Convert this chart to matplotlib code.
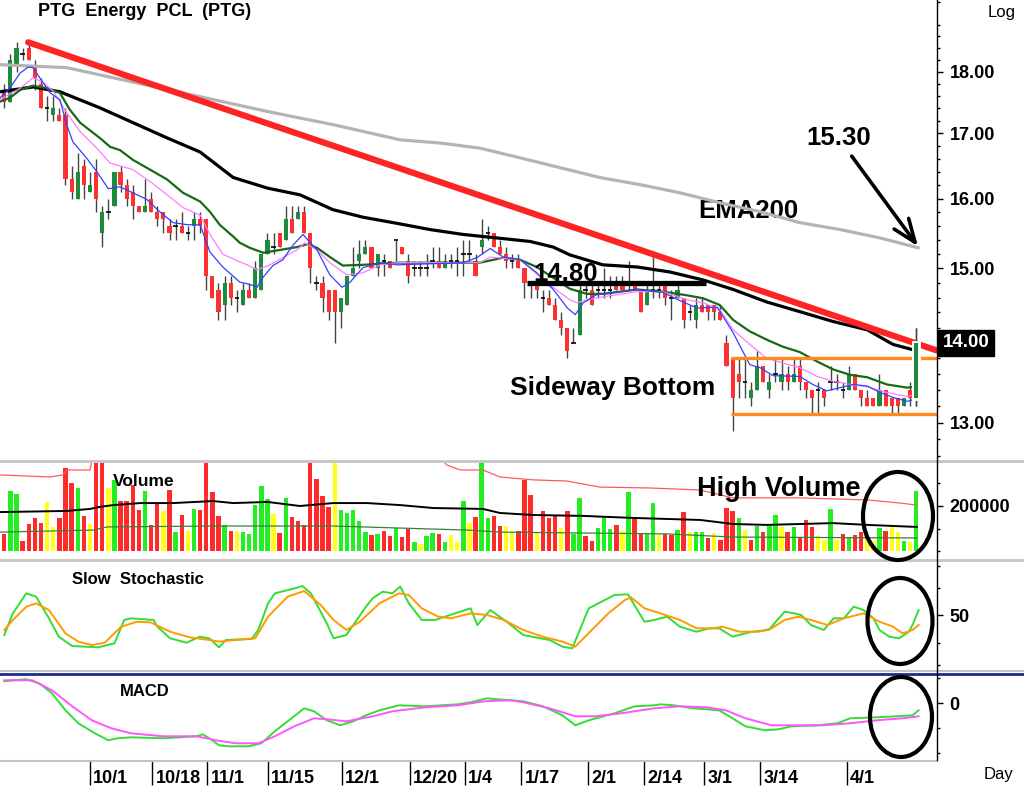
import matplotlib.pyplot as plt
import matplotlib.transforms as mtrans
from matplotlib.patches import Ellipse
from matplotlib.lines import Line2D
from matplotlib.ticker import NullFormatter
import numpy as np

plt.rcParams['font.family'] = ['Liberation Sans', 'DejaVu Sans']

# daily candles, index 0 = first bar on the chart
opens = [17.7,17.5,18.1,18.3,18.4,18.1,17.8,17.4,17.3,17.3,
         17.3,16.3,16.0,16.5,16.1,16.4,15.5,15.8,15.9,16.4,
         16.2,16.1,15.9,15.8,16.0,15.8,15.8,15.6,15.6,15.6,
         15.5,15.6,15.7,15.7,14.9,14.7,14.5,14.8,14.6,14.5,
         14.7,14.6,14.7,15.2,15.3,15.5,15.4,15.7,15.7,15.8,
         15.5,14.8,14.8,14.7,14.7,14.4,14.5,14.9,15.1,15.2,
         15.3,15.0,15.1,15.1,15.4,15.3,15.1,15.0,15.0,15.0,
         15.1,15.1,15.0,15.1,15.1,15.2,15.2,15.1,15.3,15.5,
         15.5,15.3,15.2,15.1,15.1,15.0,14.8,14.8,14.6,14.6,
         14.5,14.3,14.2,14.0,14.1,14.7,14.7,14.7,14.7,14.7,
         14.8,14.8,14.8,14.8,14.7,14.5,14.7,14.7,14.8,14.6,
         14.6,14.6,14.4,14.3,14.5,14.5,14.5,14.4,14.0,13.8,
         13.6,13.5,13.3,13.4,13.7,13.4,13.6,13.5,13.6,13.5,
         13.7,13.5,13.4,13.4,13.4,13.5,13.5,13.4,13.4,13.6,
         13.4,13.3,13.3,13.2,13.4,13.3,13.3,13.2,13.4,13.3]
highs = [17.8,18.3,18.5,18.4,18.5,18.2,17.9,17.6,17.6,17.4,
         17.4,16.5,16.7,16.6,16.4,16.6,15.9,16.0,16.4,16.5,
         16.3,16.2,15.9,16.3,16.1,15.9,15.8,15.7,15.7,15.8,
         15.6,15.8,15.8,15.7,14.9,14.8,14.9,14.9,14.7,14.8,
         14.8,15.1,15.2,15.5,15.5,15.5,15.9,15.9,15.9,15.9,
         15.5,14.9,14.9,14.7,14.7,14.6,14.9,15.3,15.4,15.4,
         15.3,15.2,15.2,15.1,15.4,15.3,15.2,15.1,15.1,15.2,
         15.3,15.3,15.2,15.2,15.3,15.4,15.4,15.2,15.7,15.6,
         15.5,15.4,15.3,15.2,15.2,15.0,14.8,14.8,14.7,14.7,
         14.6,14.4,14.2,14.2,14.8,14.8,14.8,14.8,15.0,14.9,
         14.9,14.9,15.1,14.8,14.7,14.8,15.2,14.8,14.8,14.7,
         14.8,14.6,14.5,14.6,14.6,14.5,14.5,14.5,14.1,13.8,
         13.8,13.8,13.5,13.9,13.7,13.6,13.8,13.8,13.7,13.8,
         13.8,13.5,13.4,13.5,13.4,13.7,13.6,13.5,13.7,13.6,
         13.4,13.4,13.3,13.6,13.4,13.3,13.3,13.3,13.5,14.2]
lows = [17.4,17.5,18.0,18.2,18.2,17.7,17.4,17.2,17.2,17.2,
        16.2,16.0,16.0,16.0,16.1,15.8,15.3,15.7,15.9,16.1,
        15.9,15.7,15.8,15.8,15.8,15.6,15.5,15.4,15.4,15.5,
        15.4,15.4,15.5,14.7,14.6,14.3,14.3,14.5,14.4,14.5,
        14.6,14.6,14.7,15.2,15.2,15.3,15.4,15.5,15.7,15.5,
        14.8,14.7,14.4,14.3,14.0,14.2,14.5,14.9,15.0,15.2,
        15.0,14.9,14.9,15.0,15.1,15.2,14.8,14.9,14.9,14.9,
        15.0,15.0,15.0,15.0,14.9,14.9,15.1,14.9,15.2,15.4,
        15.3,15.2,15.0,15.0,15.0,14.6,14.6,14.6,14.4,14.5,
        14.3,14.1,13.8,14.0,14.1,14.6,14.5,14.6,14.6,14.6,
        14.7,14.7,14.7,14.7,14.4,14.5,14.6,14.6,14.5,14.3,
        14.6,14.2,14.3,14.2,14.4,14.3,14.3,14.3,13.7,12.9,
        13.3,13.3,13.2,13.4,13.5,13.3,13.5,13.4,13.4,13.5,
        13.4,13.3,13.1,13.1,13.2,13.4,13.4,13.3,13.4,13.4,
        13.2,13.2,13.2,13.2,13.2,13.1,13.1,13.2,13.2,13.2]
closes = [17.5,18.2,18.4,18.3,18.2,17.9,17.4,17.4,17.4,17.2,
          16.3,16.1,16.4,16.2,16.2,16.0,15.8,15.8,16.4,16.2,
          16.0,15.9,15.8,15.9,15.8,15.7,15.7,15.5,15.6,15.5,
          15.5,15.7,15.6,14.9,14.6,14.4,14.8,14.6,14.6,14.7,
          14.6,15.0,15.2,15.4,15.3,15.3,15.7,15.5,15.8,15.5,
          15.0,14.8,14.6,14.4,14.4,14.6,14.9,15.0,15.2,15.3,
          15.0,15.2,15.1,15.0,15.4,15.2,14.9,15.0,15.0,15.0,
          15.1,15.0,15.1,15.1,15.1,15.2,15.2,14.9,15.4,15.5,
          15.3,15.2,15.1,15.1,15.0,14.8,14.8,14.7,14.6,14.5,
          14.3,14.2,13.9,14.0,14.7,14.7,14.5,14.7,14.7,14.7,
          14.7,14.7,14.8,14.7,14.4,14.7,14.7,14.7,14.6,14.6,
          14.7,14.3,14.4,14.5,14.4,14.4,14.4,14.3,13.7,13.3,
          13.5,13.5,13.4,13.7,13.5,13.5,13.6,13.6,13.5,13.6,
          13.5,13.4,13.3,13.4,13.3,13.5,13.5,13.4,13.6,13.4,
          13.3,13.2,13.2,13.4,13.2,13.2,13.2,13.3,13.3,14.0]

# volume in thousands of shares, colour code r=down g=up y=unchanged
volume = [75,267,253,44,120,147,124,218,107,147,
          369,302,280,155,120,450,450,280,316,222,
          222,293,182,267,116,209,178,271,84,160,
          89,187,182,450,262,155,116,89,89,84,
          76,204,289,231,164,80,236,151,133,116,
          450,320,244,196,450,182,169,182,133,84,
          71,76,89,67,102,62,98,40,31,67,
          80,76,40,71,40,222,124,151,450,147,
          155,112,112,83,89,316,249,79,178,148,
          157,101,178,74,237,67,44,104,156,98,
          116,89,261,145,74,74,212,71,74,71,
          93,172,83,83,83,59,79,49,190,178,
          145,93,49,112,83,112,160,108,83,105,
          56,138,108,68,49,187,49,74,59,71,
          83,59,44,104,89,108,83,44,41,267]
vol_dir = ("rggrrrryyr" "rrgryrrygr" "rrrgrryrgr" "ygrrrrgryg" "ggggyrgrrr"
           "rrrryggggg" "rgrrgrrgyg" "grgyygyrgg" "rryyrrryrr" "ryrggrrggg"
           "rygrrggyrr" "grygg" "ryrrr" "gyrgrggyrg" "rrryygyrgr" "ryygryygyg")

# moving averages on the price panel (bar index, price)
ema_fast_x = [-0.7,0.9,2.6,3.9,4.7,5.8,7.5,9.1,10.2,11.2,13.5,15.1,17.0,18.9,21.0,23.3,25.4,27.6,30.0,32.0,
              33.6,35.7,38.5,40.1,41.3,42.3,43.9,45.5,47.2,48.8,49.6,51.1,53.2,55.2,56.5,58.6,61.4,64.2,75.0,77.2,
              79.4,81.5,84.3,87.0,89.7,92.0,93.3,94.6,96.8,100.6,103.4,107.6,110.9,113.2,116.5,119.1,121.8,123.5,125.6,130.0,
              132.1,134.4,136.6,138.7,141.0,143.1,145.2,147.5,148.5,149.3]
ema_fast_y = [17.57,17.73,17.98,18.08,18.07,17.90,17.65,17.54,17.14,16.87,16.61,16.41,16.15,16.18,16.09,15.99,15.81,15.65,15.62,15.62,
              15.23,15.02,14.81,14.78,14.74,14.88,15.04,15.12,15.33,15.48,15.40,15.26,14.91,14.74,14.81,15.01,15.08,15.05,15.08,15.15,
              15.28,15.16,15.12,14.94,14.71,14.46,14.37,14.53,14.64,14.68,14.71,14.67,14.54,14.46,14.47,14.13,13.72,13.68,13.58,13.57,
              13.47,13.39,13.43,13.47,13.45,13.37,13.31,13.26,13.28,13.40]
ema_mid_x = [-0.7,2.6,4.7,6.3,8.0,10.2,12.4,15.1,17.3,21.0,23.8,26.6,29.2,32.0,33.6,35.7,38.5,39.7,41.3,43.4,
             45.5,47.8,49.1,51.1,53.2,56.0,58.6,61.4,64.2,77.7,79.4,84.3,88.7,92.4,93.6,95.2,97.8,103.4,107.6,111.6,
             114.2,116.9,119.1,121.8,124.6,127.2,130.0,132.8,135.4,138.2,141.0,144.2,147.5,148.8,149.3]
ema_mid_y = [17.54,17.73,17.90,17.83,17.68,17.33,17.03,16.77,16.54,16.44,16.26,16.06,15.87,15.76,15.48,15.20,15.09,15.05,14.98,15.05,
             15.15,15.26,15.36,15.26,15.08,14.91,14.94,15.05,15.08,15.08,15.16,15.12,14.80,14.57,14.53,14.57,14.61,14.68,14.68,14.57,
             14.53,14.44,14.17,13.98,13.80,13.74,13.68,13.57,13.51,13.47,13.44,13.37,13.32,13.34,13.40]
ema_slow_x = [-0.7,0.9,2.6,4.7,7.0,9.1,10.7,12.4,15.6,17.3,18.9,21.0,23.8,26.6,29.2,32.0,33.6,35.2,37.4,38.5,
              40.1,42.3,45.1,47.8,49.5,51.1,53.2,55.3,58.6,64.2,75.0,77.7,81.5,84.3,87.0,89.7,92.4,95.2,97.8,103.4,
              107.6,111.6,114.2,116.9,119.1,121.8,124.6,127.2,130.0,132.8,135.4,138.2,141.0,144.2,147.5,148.8,149.3]
ema_slow_y = [17.51,17.57,17.70,17.77,17.73,17.65,17.38,17.17,16.93,16.79,16.74,16.59,16.44,16.29,16.09,15.96,15.81,15.62,15.45,15.36,
              15.29,15.22,15.26,15.30,15.34,15.29,15.16,15.04,15.05,15.08,15.08,15.08,15.15,15.12,15.02,14.87,14.72,14.65,14.65,14.71,
              14.68,14.63,14.59,14.50,14.30,14.15,14.04,13.95,13.88,13.76,13.66,13.59,13.56,13.47,13.43,13.44,13.46]
ema_long_x = [-0.7,4.7,9.1,15.6,26.6,32.0,37.4,43.0,48.3,53.7,58.6,64.2,69.6,75.0,80.5,85.9,89.7,92.4,97.8,103.4,
              108.8,114.2,119.1,124.6,130.0,135.4,141.0,145.2,148.5,149.3]
ema_long_y = [17.67,17.75,17.67,17.41,16.93,16.71,16.32,16.16,16.06,15.84,15.73,15.64,15.55,15.48,15.43,15.38,15.30,15.19,15.05,15.02,
              14.95,14.84,14.71,14.54,14.41,14.28,14.17,13.98,13.91,13.93]
ema200_x = [-0.7,10.2,21.0,32.0,43.0,53.7,64.7,71.2,77.7,84.3,97.3,104.0,110.4,117.0,123.5,130.0,136.6,143.1,149.3]
ema200_y = [18.12,18.07,17.83,17.59,17.35,17.14,16.90,16.85,16.77,16.62,16.32,16.21,16.09,15.94,15.81,15.65,15.55,15.43,15.29]

trend_x = [3.9, 152.4]
trend_y = [18.5, 13.9]
resist_level = 14.80
resist_span = [85.4, 114.7]
box_top, box_bottom = 13.8, 13.1
box_start = 118.8

# volume averages (thousands)
vol_red_x = [-0.7,7.5,9.6,10.2,14.0,14.5,71.1,72.3,74.5,78.2,81.0,86.4,91.9,97.3,105.5,113.7,119.1,130.0,141.0,146.4,149.1]
vol_red_y = [338,329,338,360,360,420,420,382,360,360,329,316,311,284,280,271,236,236,227,213,204]
vol_blk_x = [-0.7,10.2,14.0,15.6,17.8,22.2,27.6,34.1,37.4,43.0,48.3,53.7,59.3,64.7,70.1,78.2,81.0,86.4,94.6,102.7,
             113.7,119.1,124.6,135.4,141.0,149.1]
vol_blk_y = [173,178,187,196,204,213,213,222,213,218,200,213,213,204,191,187,169,160,156,147,138,120,116,124,116,107]
vol_grn_x = [-0.7,14.5,16.8,34.1,53.7,64.7,75.6,81.0,108.3,119.1,149.1]
vol_grn_y = [84,93,107,111,111,102,93,84,76,62,58]

# slow stochastic
stoch_k_x = [0,1.4,3.6,5.2,7.3,8.9,11.1,15.3,18.0,19.6,20.7,24.4,25.0,27.1,29.8,31.9,33.5,35.1,36.2,40.4,
             41.5,43.1,44.2,47.4,48.7,50.1,52.7,53.8,55.9,59.1,60.2,61.8,63.4,64.7,66.1,68.2,70.4,72.0,76.2,77.3,
             79.4,82.1,84.8,89.1,91.2,92.8,95.5,99.7,101.9,104.6,106.2,108.3,110.4,113.1,115.2,116.8,119.0,122.2,124.9,127.5,
             129.1,130.2,131.8,133.9,135.5,137.2,138.8,140.4,142.0,143.0,144.6,146.2,147.8,148.4,149.4]
stoch_k_y = [31.8,51.5,69.7,66.7,47.0,30.3,21.8,20.6,24.2,45.5,47.0,45.5,39.4,28.8,24.8,30.3,28.8,20.6,27.3,28.2,
             36.4,60.6,69.7,74.2,76.4,69.7,42.4,28.8,31.8,57.6,65.2,71.2,69.7,75.8,60.6,45.5,45.5,48.5,56.1,40.9,
             54.5,43.9,31.8,27.3,21.2,19.7,56.1,68.2,68.8,43.9,45.5,48.5,39.4,34.8,37.9,37.9,30.3,34.8,36.4,53.0,
             51.5,50.0,40.9,36.4,47.0,47.0,57.6,54.5,47.0,36.4,30.3,28.8,34.8,40.9,54.5]
stoch_d_x = [0,1.4,3.6,5.2,7.3,10.0,12.1,14.3,16.4,19.1,21.7,23.9,27.1,30.3,33.5,35.1,37.8,41.0,43.1,46.3,
             49.0,51.7,53.8,55.9,58.1,61.3,64.5,66.1,68.2,70.9,73.0,76.2,78.9,81.6,84.8,88.0,91.2,93.3,96.0,98.7,
             101.4,102.4,104.6,107.2,110.4,113.1,115.8,117.4,120.1,123.3,125.4,127.5,129.7,131.8,134.5,137.2,140.4,143.0,145.2,146.8,
             148.4,149.4]
stoch_d_y = [36.4,45.5,57.6,60.6,54.5,33.3,25.8,22.7,24.8,39.4,43.9,43.3,34.8,29.7,27.3,25.8,27.3,28.8,48.5,66.7,
             71.8,59.1,45.5,36.4,43.9,60.6,69.7,68.2,56.1,48.5,47.0,51.5,50.0,45.5,36.4,30.3,25.8,21.2,36.4,51.5,
             63.6,66.1,56.1,51.5,45.5,37.9,37.9,39.4,34.8,34.8,37.9,45.5,48.5,45.5,40.9,47.0,51.5,43.9,39.4,33.3,
             36.4,40.9]

# MACD and signal
macd_x = [0,1.4,3.6,5.7,7.8,10.0,12.1,14.8,17.0,18.5,20.7,26.0,31.4,32.4,33.5,35.1,36.7,39.9,42.0,44.2,
          46.3,49.0,50.6,52.7,54.9,57.0,59.1,61.3,64.5,68.8,74.1,76.2,78.9,80.5,82.7,84.8,88.0,91.2,93.3,95.5,
          99.7,103.0,106.2,107.2,109.4,112.6,116.8,119.0,121.1,124.3,126.5,128.6,132.9,136.1,138.2,142.5,145.7,148.4,149.4]
macd_y = [0.22,0.23,0.24,0.20,0.10,-0.07,-0.20,-0.30,-0.37,-0.35,-0.34,-0.35,-0.33,-0.31,-0.35,-0.42,-0.43,-0.43,-0.40,-0.28,
          -0.18,-0.05,-0.08,-0.17,-0.22,-0.18,-0.12,-0.07,-0.02,-0.03,-0.01,0.01,0.05,0.04,0.03,0.02,-0.03,-0.12,-0.22,-0.17,
          -0.10,-0.03,-0.02,-0.01,-0.02,-0.05,-0.07,-0.15,-0.23,-0.27,-0.26,-0.23,-0.22,-0.20,-0.15,-0.14,-0.13,-0.12,-0.07]
signal_x = [0,4.6,7.8,11.1,14.3,17.5,20.7,26.0,31.4,34.6,37.8,41.5,44.2,47.4,50.6,52.7,55.9,60.2,63.4,68.8,
            74.1,78.4,82.7,84.8,89.1,93.3,96.5,100.8,106.2,110.4,114.7,117.9,121.1,125.4,129.7,133.9,138.2,142.5,146.8,149.4]
signal_y = [0.23,0.23,0.13,-0.03,-0.17,-0.25,-0.30,-0.33,-0.33,-0.37,-0.40,-0.40,-0.33,-0.23,-0.15,-0.16,-0.18,-0.13,-0.08,-0.04,
            -0.02,0.02,0.03,0.01,-0.05,-0.13,-0.13,-0.10,-0.05,-0.03,-0.04,-0.07,-0.15,-0.22,-0.22,-0.22,-0.20,-0.17,-0.15,-0.13]

date_pos = [14.05,24.2,33.2,43.1,55.2,66.3,75.2,84.5,95.4,104.6,114.4,123.5,137.7]
date_lab = ['10/1','10/18','11/1','11/15','12/1','12/20','1/4','1/17','2/1','2/14','3/1','3/14','4/1']

W, H = 1024.0, 786.0
RIGHT = 937.0
XLIM = (-0.70, 152.4)

fig = plt.figure(figsize=(10.24, 7.86), dpi=100)
fig.patch.set_facecolor('white')

def panel(top, bottom):
    return fig.add_axes([0, 1 - bottom / H, RIGHT / W, (bottom - top) / H])

ax_p = panel(0, 459)
ax_v = panel(463, 558)
ax_s = panel(562, 670)
ax_m = panel(674, 760)

for ax in (ax_p, ax_v, ax_s, ax_m):
    ax.set_xlim(*XLIM)
    for s in ('top', 'left', 'bottom', 'right'):
        ax.spines[s].set_visible(False)
    ax.yaxis.tick_right()
    ax.tick_params(axis='y', which='major', direction='out', length=4, width=1, pad=5,
                   labelsize=13, colors='black')
    ax.tick_params(axis='y', which='minor', direction='out', length=2.5, width=1)
    ax.set_facecolor('white')

# ---- price panel
o = np.array(opens); c = np.array(closes); hi = np.array(highs); lo = np.array(lows)
idx = np.arange(len(c))
up = c > o
dn = c < o
eq = c == o
ax_p.set_yscale('log')
ax_p.vlines(idx, lo, hi, color='#444444', lw=1, zorder=2)
ax_p.bar(idx[up], (c - o)[up], bottom=o[up], width=0.68, color='#1e8a3e', zorder=3)
ax_p.bar(idx[dn], (o - c)[dn], bottom=c[dn], width=0.68, color='#ff3030', zorder=3)
ax_p.hlines(c[eq], idx[eq] - 0.36, idx[eq] + 0.36, color='black', lw=1.2, zorder=3)

ax_p.plot(ema200_x, ema200_y, color='#b4b4b4', lw=2.3, zorder=4)
ax_p.plot(ema_long_x, ema_long_y, color='black', lw=2.3, zorder=4)
ax_p.plot(ema_slow_x, ema_slow_y, color='#156b15', lw=1.6, zorder=4)
ax_p.plot(ema_mid_x, ema_mid_y, color='#ff7cff', lw=0.9, zorder=4)
ax_p.plot(ema_fast_x, ema_fast_y, color='#3340ff', lw=0.9, zorder=4)
ax_p.plot(trend_x, trend_y, color='#ff2424', lw=4.5, solid_capstyle='round', zorder=5)
ax_p.hlines(resist_level, resist_span[0], resist_span[1], color='black', lw=3.8, zorder=5)
ax_p.hlines([box_top, box_bottom], box_start, XLIM[1], color='#ff8a1c', lw=2.4, zorder=5)

# latest bar sits on top of the lines, with a white gap around it
last = idx[-1]
ax_p.bar([last], [c[-1] - o[-1]], bottom=o[-1], width=0.68, color='#1e8a3e',
         edgecolor='white', lw=3.5, zorder=6)
ax_p.vlines([last], lo[-1], hi[-1], color='#444444', lw=1, zorder=5.5)
ax_p.bar([last], [c[-1] - o[-1]], bottom=o[-1], width=0.68, color='#1e8a3e', zorder=7)

ax_p.set_ylim(12.57, 19.24)
ax_p.set_yticks([13, 14, 15, 16, 17, 18])
ax_p.set_yticklabels(['13.00', '', '15.00', '16.00', '17.00', '18.00'], fontweight='bold')
ax_p.set_yticks([v for v in np.arange(12.6, 19.21, 0.2) if abs(v - round(v)) > 0.05], minor=True)
ax_p.yaxis.set_minor_formatter(NullFormatter())
ax_p.set_xticks([])
bl = mtrans.blended_transform_factory(ax_p.transAxes, ax_p.transData)
ax_p.text(1 + 6 / RIGHT, 14.0, '14.00', transform=bl, color='white', fontweight='bold', size=13.5,
          va='center', ha='left', bbox=dict(boxstyle='square,pad=0.25', fc='black', ec='black'))

ax_p.text(86.4, 14.83, '14.80', fontweight='bold', size=18.5, ha='left', va='baseline', zorder=6)
ax_p.text(82.6, 13.34, 'Sideway Bottom', fontweight='bold', size=19, ha='left', va='baseline')
ax_p.text(113.4, 15.72, 'EMA200', fontweight='bold', size=18.5, ha='left', va='baseline')
ax_p.annotate('15.30', xy=(149.3, 15.31), xytext=(131.0, 16.82), fontweight='bold', size=18.5,
              ha='left', va='baseline',
              arrowprops=dict(arrowstyle='->,head_length=0.9,head_width=0.35', lw=2.6,
                              color='black', shrinkA=3, shrinkB=0))

# ---- volume panel
vcol = {'r': '#ff2a2a', 'g': '#22ee22', 'y': '#ffff1a'}
ax_v.bar(idx, volume, width=0.72, color=[vcol[k] for k in vol_dir], zorder=2)
ax_v.plot(vol_red_x, vol_red_y, color='#ff5a5a', lw=0.9, zorder=3)
ax_v.plot(vol_blk_x, vol_blk_y, color='black', lw=1.4, zorder=3)
ax_v.plot(vol_grn_x, vol_grn_y, color='#3d7d3d', lw=0.9, zorder=3)
ax_v.set_ylim(-31, 391)
ax_v.set_yticks([200])
ax_v.set_yticklabels(['200000'], fontweight='bold')
ax_v.set_yticks([0, 100, 300], minor=True)
ax_v.set_xticks([])
ax_v.text(113.2, 244, 'High Volume', fontweight='bold', size=19.5, ha='left', va='baseline', zorder=5)

# ---- stochastic panel
ax_s.plot(stoch_k_x, stoch_k_y, color='#33dd33', lw=1.4)
ax_s.plot(stoch_d_x, stoch_d_y, color='#ff9a00', lw=1.4)
ax_s.set_ylim(0, 98.2)
ax_s.set_yticks([50])
ax_s.set_yticklabels(['50'], fontweight='bold')
ax_s.set_yticks([5, 25, 75, 95], minor=True)
ax_s.set_xticks([])

# ---- MACD panel
ax_m.plot(macd_x, macd_y, color='#33dd33', lw=1.4)
ax_m.plot(signal_x, signal_y, color='#ff55ff', lw=1.4)
ax_m.set_ylim(-0.567, 0.293)
ax_m.set_yticks([0])
ax_m.set_yticklabels(['0'], fontweight='bold')
ax_m.set_yticks([-0.5, -0.25, 0.25], minor=True)
ax_m.set_xticks(date_pos)
ax_m.set_xticklabels([])
ax_m.tick_params(axis='x', direction='out', length=18, width=1, color='black')
bm = mtrans.blended_transform_factory(ax_m.transData, ax_m.transAxes)
for p, lab in zip(date_pos, date_lab):
    ax_m.text(p + 0.5, -0.21, lab, transform=bm, ha='left', va='center', fontweight='bold', size=13)

# ---- frame, separators and labels
def hline(y, x0=0, x1=W, **kw):
    fig.add_artist(Line2D([x0 / W, x1 / W], [1 - y / H, 1 - y / H], transform=fig.transFigure, **kw))

hline(461, color='#c4c4c4', lw=2)
hline(560, color='#c4c4c4', lw=2)
hline(670.5, color='#c4c4c4', lw=1.5)
hline(673.5, color='#1f2a8c', lw=2)
hline(761, 0, RIGHT, color='#c4c4c4', lw=1.5)
fig.add_artist(Line2D([RIGHT / W, RIGHT / W], [1, 1 - 760 / H], transform=fig.transFigure,
                      color='black', lw=1))

for cx, cy, w, h in [(898, 516, 70, 88), (900, 621, 65, 86), (901, 717, 62, 80)]:
    fig.add_artist(Ellipse((cx / W, 1 - cy / H), w / W, h / H, transform=fig.transFigure,
                           fill=False, ec='black', lw=3, zorder=10))

fig.text(38 / W, 1 - 12 / H, 'PTG  Energy  PCL  (PTG)', fontweight='bold', size=13, va='center', ha='left')
fig.text(113 / W, 1 - 481 / H, 'Volume', fontweight='bold', size=12.5, va='center', ha='left')
fig.text(72 / W, 1 - 580 / H, 'Slow  Stochastic', fontweight='bold', size=12, va='center', ha='left')
fig.text(120 / W, 1 - 691 / H, 'MACD', fontweight='bold', size=12, va='center', ha='left')
fig.text(988 / W, 1 - 12 / H, 'Log', size=12, va='center', ha='left')
fig.text(984 / W, 1 - 774 / H, 'Day', size=12, va='center', ha='left')

fig.savefig('out.png', dpi=100, facecolor='white')
